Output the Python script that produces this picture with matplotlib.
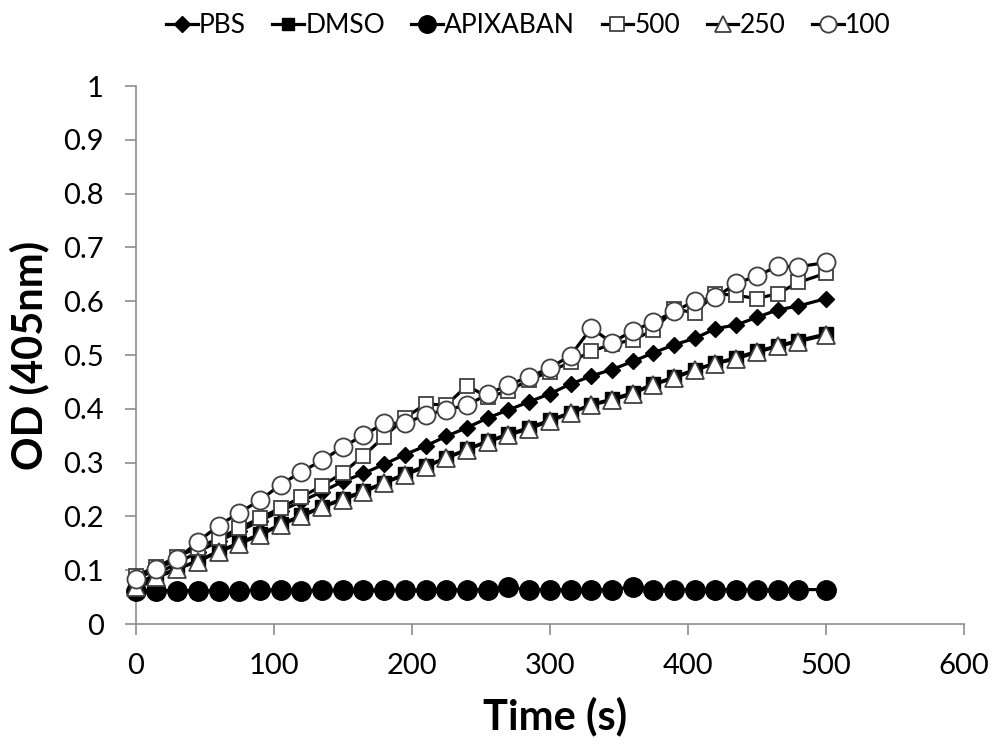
import matplotlib
matplotlib.use("Agg")
import matplotlib.pyplot as plt
from matplotlib.lines import Line2D

plt.rcParams['font.family'] = ['Lato', 'DejaVu Sans']

time_s = [0, 15, 30, 45, 60, 75, 90, 105, 120, 135, 150, 165, 180, 195, 210, 225,
          240, 255, 270, 285, 300, 315, 330, 345, 360, 375, 390, 405, 420, 435,
          450, 465, 480, 500]

pbs = [0.073, 0.093, 0.113, 0.134, 0.154, 0.172, 0.192, 0.210, 0.228, 0.246,
       0.265, 0.280, 0.297, 0.315, 0.331, 0.349, 0.365, 0.383, 0.398, 0.413,
       0.428, 0.446, 0.461, 0.473, 0.488, 0.504, 0.519, 0.531, 0.549, 0.556,
       0.570, 0.584, 0.591, 0.605]

dmso = [0.065, 0.086, 0.102, 0.118, 0.135, 0.151, 0.167, 0.185, 0.202, 0.218,
        0.233, 0.247, 0.263, 0.279, 0.294, 0.309, 0.325, 0.340, 0.353, 0.365,
        0.379, 0.393, 0.408, 0.418, 0.430, 0.446, 0.459, 0.473, 0.485, 0.495,
        0.507, 0.517, 0.527, 0.539]

apixaban = [0.061, 0.062, 0.062, 0.062, 0.062, 0.062, 0.063, 0.063, 0.062, 0.063,
            0.063, 0.063, 0.063, 0.063, 0.063, 0.063, 0.064, 0.064, 0.068, 0.064,
            0.064, 0.063, 0.063, 0.064, 0.069, 0.064, 0.064, 0.064, 0.064, 0.064,
            0.064, 0.064, 0.064, 0.064]

c500 = [0.090, 0.106, 0.125, 0.142, 0.159, 0.178, 0.197, 0.216, 0.236, 0.257,
        0.281, 0.313, 0.348, 0.383, 0.409, 0.407, 0.443, 0.422, 0.433, 0.454,
        0.469, 0.487, 0.507, 0.520, 0.528, 0.546, 0.585, 0.579, 0.614, 0.611,
        0.605, 0.614, 0.635, 0.652]

c250 = [0.069, 0.088, 0.103, 0.116, 0.134, 0.149, 0.165, 0.184, 0.200, 0.217,
        0.231, 0.245, 0.262, 0.277, 0.292, 0.308, 0.324, 0.339, 0.351, 0.363,
        0.377, 0.392, 0.407, 0.416, 0.428, 0.445, 0.457, 0.472, 0.484, 0.493,
        0.505, 0.516, 0.525, 0.537]

c100 = [0.083, 0.102, 0.120, 0.153, 0.183, 0.207, 0.230, 0.259, 0.283, 0.304,
        0.329, 0.351, 0.373, 0.373, 0.389, 0.398, 0.407, 0.427, 0.445, 0.459,
        0.476, 0.499, 0.550, 0.523, 0.545, 0.561, 0.581, 0.600, 0.607, 0.633,
        0.647, 0.665, 0.664, 0.672]

labels = ["PBS", "DMSO", "APIXABAN", "500", "250", "100"]
x_ticks = [0, 100, 200, 300, 400, 500, 600]
y_ticks = [0, 0.1, 0.2, 0.3, 0.4, 0.5, 0.6, 0.7, 0.8, 0.9, 1]
y_tick_labels = ["0", "0.1", "0.2", "0.3", "0.4", "0.5", "0.6", "0.7", "0.8", "0.9", "1"]

fig = plt.figure(figsize=(9.93, 7.45), dpi=100)
ax = fig.add_axes([0.1367, 0.1624, 0.834, 0.7221])

styles = [
    dict(marker='D', ms=8.5, mfc='black', mec='black', mew=1.0),
    dict(marker='s', ms=10, mfc='black', mec='black', mew=1.0),
    dict(marker='o', ms=14, mfc='black', mec='black', mew=1.0),
    dict(marker='s', ms=10.5, mfc='white', mec='#404040', mew=1.3),
    dict(marker='^', ms=12.5, mfc='white', mec='#404040', mew=1.3),
    dict(marker='o', ms=13, mfc='white', mec='#404040', mew=1.3),
]
series = [pbs, dmso, apixaban, c500, c250, c100]

for i, (vals, st, lab) in enumerate(zip(series, styles, labels)):
    ax.plot(time_s, vals, color='black', lw=2.3, label=lab, zorder=3 + i,
            clip_on=False, **st)

ax.set_xlim(0, 600)
ax.set_ylim(0, 1)
ax.set_xticks(x_ticks)
ax.set_yticks(y_ticks)
ax.set_yticklabels(y_tick_labels)
ax.tick_params(axis='both', labelsize=21, direction='out', length=8, width=1.2,
               color='#8c8c8c', labelcolor='black')
ax.tick_params(axis='x', pad=13)
ax.tick_params(axis='y', pad=15)
for s in ['top', 'right']:
    ax.spines[s].set_visible(False)
for s in ['left', 'bottom']:
    ax.spines[s].set_color('#8c8c8c')
    ax.spines[s].set_linewidth(1.2)

ax.set_xlabel("Time (s)", fontsize=30, fontweight='bold')
ax.xaxis.label.set_verticalalignment('center')
ax.xaxis.set_label_coords(0.506, -0.171)
ax.set_ylabel("OD (405nm)", fontsize=30, fontweight='bold')
ax.yaxis.label.set_verticalalignment('center')
ax.yaxis.set_label_coords(-0.128, 0.5)

leg_handles = []
for st in styles:
    s2 = dict(st)
    s2['ms'] = st['ms'] * 0.9
    leg_handles.append(Line2D([0], [0], color='black', lw=2.3, **s2))
fig.legend(leg_handles, labels, loc='center', bbox_to_anchor=(0.532, 0.966),
           ncol=6, frameon=False, fontsize=19, handlelength=1.2,
           handletextpad=0.05, columnspacing=1.0)

fig.savefig("out.png", dpi=100)
